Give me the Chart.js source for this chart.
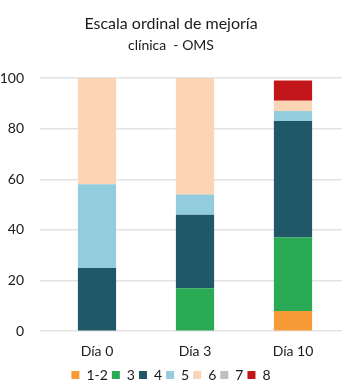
<!DOCTYPE html>
<html>
<head>
<meta charset="utf-8">
<script src="https://cdn.jsdelivr.net/npm/chart.js@4"></script>
<style>
  html, body { margin: 0; padding: 0; background: #fff; }
  #wrap { width: 357px; height: 392px; position: relative; }
</style>
</head>
<body>
<div id="wrap"><canvas id="ordinalChart"></canvas></div>
<script>
// categories and series (percent of patients per WHO ordinal score)
const days = ["Día 0", "Día 3", "Día 10"];
const seriesNames = ["1-2", "3", "4", "5", "6", "7", "8"];
const s12 = [0, 0, 8];
const s3  = [0, 17, 29];
const s4  = [25, 29, 46];
const s5  = [33, 8, 4];
const s6  = [42, 46, 4];
const s7  = [0, 0, 0];
const s8  = [0, 0, 8];
const yTicks = [0, 20, 40, 60, 80, 100];

const colors = ["#F79B38", "#2AAA54", "#215867", "#93CDDD", "#FBD5B5", "#BFBFBF", "#C2161B"];

(function(){
  const el = document.getElementById("ordinalChart");
  const FONT = "Lato, 'Open Sans', sans-serif";
  const values = [s12, s3, s4, s5, s6, s7, s8];

  const datasets = seriesNames.map((name, i) => ({
    label: name,
    data: values[i],
    backgroundColor: colors[i],
    borderWidth: 0,
    barPercentage: 0.78,
    categoryPercentage: 0.5
  }));

  new Chart(el, {
    type: "bar",
    data: { labels: days, datasets },
    options: {
      responsive: true,
      maintainAspectRatio: false,
      animation: false,
      layout: { padding: { left: 0, right: 15, top: 8, bottom: 0 } },
      plugins: {
        title: {
          display: true,
          text: "Escala ordinal de mejoría",
          color: "#1a1a1a",
          font: { family: FONT, size: 16, weight: "normal" },
          padding: { top: 6, bottom: 4 }
        },
        subtitle: {
          display: true,
          text: "clínica  - OMS",
          color: "#1a1a1a",
          font: { family: FONT, size: 14, weight: "normal" },
          padding: { bottom: 24 }
        },
        legend: {
          position: "bottom",
          labels: {
            boxWidth: 8,
            boxHeight: 8,
            padding: 4,
            color: "#1a1a1a",
            font: { family: FONT, size: 14 }
          }
        },
        tooltip: { enabled: false }
      },
      scales: {
        x: {
          stacked: true,
          grid: { display: false },
          border: { display: false },
          ticks: { color: "#1a1a1a", font: { family: FONT, size: 14 }, padding: 4 }
        },
        y: {
          stacked: true,
          min: 0,
          max: 100,
          afterBuildTicks: (axis) => { axis.ticks = yTicks.map(v => ({ value: v })); },
          afterFit: (axis) => { axis.width = 48; },
          grid: { color: "#E3E3E3", lineWidth: 1.5 },
          border: { display: false },
          ticks: { color: "#1a1a1a", font: { family: FONT, size: 14 }, padding: 16 }
        }
      }
    }
  });
})();
</script>
</body>
</html>
